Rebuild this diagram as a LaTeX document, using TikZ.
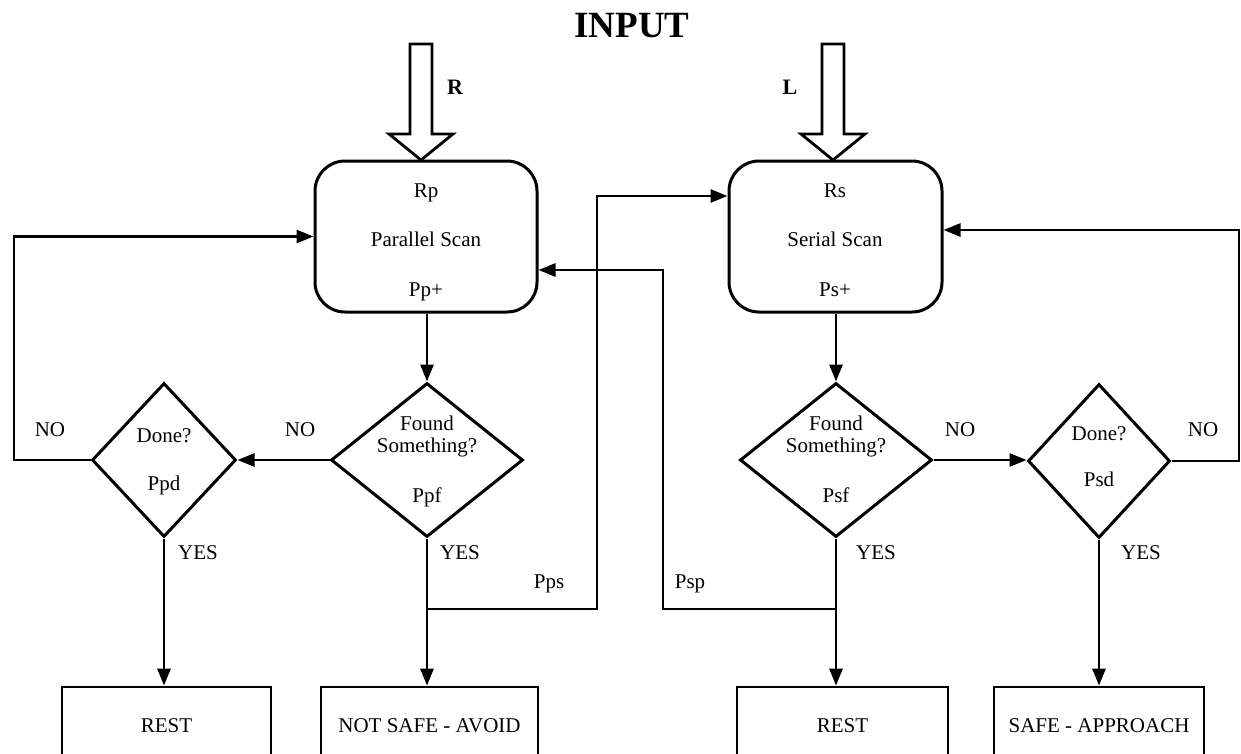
\documentclass[tikz,border=0pt]{standalone}
\usepackage{fontspec}
\setmainfont{Liberation Serif}
\usetikzlibrary{arrows.meta,shapes.geometric}

\tikzset{
  txt/.style={font=\fontsize{21}{24}\selectfont, inner sep=0pt, anchor=base},
  bold/.style={font=\bfseries\fontsize{#1}{#1}\selectfont, inner sep=0pt, anchor=base},
  scanbox/.style={draw, line width=3pt, rounded corners=30pt, minimum width=#1, minimum height=151pt, inner sep=0pt},
  decide/.style={draw, diamond, line width=3pt, minimum width=#1, minimum height=154pt, inner sep=0pt},
  endbox/.style={draw, line width=2.8pt, minimum width=#1, minimum height=90pt, inner sep=0pt},
  hollow/.style={draw, line width=2.8pt, line join=miter},
  flow/.style={line width=2.8pt, -{Triangle[length=17pt,width=13pt]}},
  wire/.style={line width=2.8pt}
}

\begin{document}
\begin{tikzpicture}[x=1pt,y=-1pt]
  \clip (0,0) rectangle (1241,753);
  % title and inputs
  \node[bold=37] (input) at (632,37) {INPUT};
  \draw[hollow] (410,44) -- (410,134) -- (389,134) -- (421,160) -- (453,134) -- (432,134) -- (432,44) -- cycle;
  \draw[hollow] (822,44) -- (822,134) -- (801,134) -- (833,160) -- (865,134) -- (844,134) -- (844,44) -- cycle;
  \node[bold=22] (inR) at (455,94) {R};
  \node[bold=22] (inL) at (790,94) {L};

  % scan boxes
  \node[scanbox=222pt] (pp) at (426,236.5) {};
  \node[scanbox=213pt] (ps) at (835.5,236.5) {};
  \node[txt] (ppR) at (426,197) {Rp};
  \node[txt] (ppT) at (426,246) {Parallel Scan};
  \node[txt] (ppP) at (426,296) {Pp+};
  \node[txt] (psR) at (835,197) {Rs};
  \node[txt] (psT) at (835,246) {Serial Scan};
  \node[txt] (psP) at (835,296) {Ps+};

  % decisions
  \node[decide=144pt] (ppd) at (164,460) {};
  \node[decide=192pt] (ppf) at (427,460) {};
  \node[decide=192pt] (psf) at (836,460) {};
  \node[decide=142pt] (psd) at (1099,461) {};
  \node[txt] (ppdA) at (164,442) {Done?};
  \node[txt] (ppdB) at (164,490) {Ppd};
  \node[txt] (ppfA) at (427,430) {Found};
  \node[txt] (ppfB) at (427,452) {Something?};
  \node[txt] (ppfC) at (427,502) {Ppf};
  \node[txt] (psfA) at (836,430) {Found};
  \node[txt] (psfB) at (836,452) {Something?};
  \node[txt] (psfC) at (836,502) {Psf};
  \node[txt] (psdA) at (1099,440) {Done?};
  \node[txt] (psdB) at (1099,486) {Psd};

  % outcomes
  \node[endbox=209pt] (rest1) at (166.5,732) {};
  \node[endbox=217pt] (avoid) at (429.5,732) {};
  \node[endbox=211pt] (rest2) at (842.5,732) {};
  \node[endbox=210pt] (safe)  at (1099,732) {};
  \node[txt] (rest1T) at (166.5,732) {REST};
  \node[txt] (avoidT) at (429.5,732) {NOT SAFE - AVOID};
  \node[txt] (rest2T) at (842.5,732) {REST};
  \node[txt] (safeT)  at (1099,732) {SAFE - APPROACH};

  % connectors
  \coordinate (ppsJ) at (427,609);
  \coordinate (pspJ) at (836,609);
  \draw[flow] (pp.south -| ppf.north) -- (ppf);
  \draw[flow] (ps.south -| psf.north) -- (psf);
  \draw[flow] (ppf) -- (ppd);
  \draw[flow] (psf.east) -- (psf.east -| psd.west);
  \draw[flow] (ppd.south) -- (ppd.south |- rest1.north);
  \draw[flow] (ppf.south) -- (ppf.south |- avoid.north);
  \draw[flow] (psf.south) -- (psf.south |- rest2.north);
  \draw[flow] (psd.south) -- (psd.south |- safe.north);
  \draw[flow] (ppd.west) -- (14,460) |- (pp.west);
  \draw[flow] (psd.east) -- (1239,461) |- ([yshift=6.5pt]ps.east);
  \draw[flow] (ppsJ) -- (597,609) |- (ps.west |- 0,196);
  \draw[flow] (pspJ) -- (663,609) |- (pp.east |- 0,270);

  % labels
  \node[txt] (no1) at (50,436) {NO};
  \node[txt] (no2) at (300,436) {NO};
  \node[txt] (no3) at (960,436) {NO};
  \node[txt] (no4) at (1203,436) {NO};
  \node[txt] (yes1) at (198,559) {YES};
  \node[txt] (yes2) at (460,559) {YES};
  \node[txt] (yes3) at (876,559) {YES};
  \node[txt] (yes4) at (1141,559) {YES};
  \node[txt] (pps) at (549,588) {Pps};
  \node[txt] (psp) at (690,588) {Psp};
\end{tikzpicture}
\end{document}
